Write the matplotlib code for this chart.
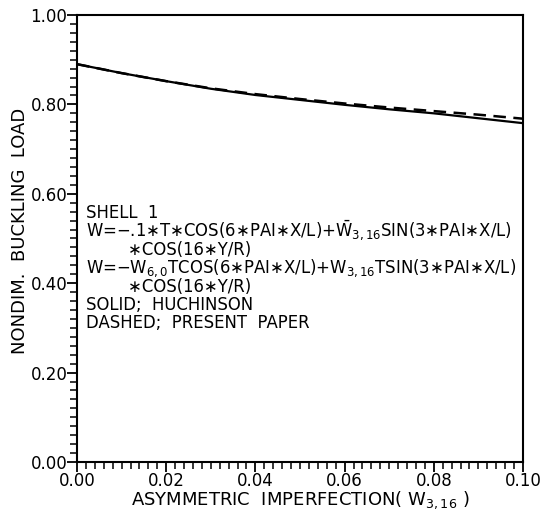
import matplotlib
matplotlib.use("Agg")
import matplotlib.pyplot as plt
import numpy as np
from matplotlib.ticker import MultipleLocator, FormatStrFormatter

# imperfection amplitude
x = [0.00, 0.01, 0.02, 0.03, 0.04, 0.05, 0.06, 0.07, 0.08, 0.09, 0.10]
# solid: Huchinson
huchinson = [0.890, 0.870, 0.852, 0.835, 0.821, 0.810, 0.799, 0.789, 0.780, 0.769, 0.758]
# dashed: present paper
present = [0.890, 0.870, 0.852, 0.836, 0.823, 0.812, 0.802, 0.793, 0.785, 0.777, 0.768]

note_lines = [
    "SHELL  1",
    r"W=$-$.1∗T∗COS(6∗PAI∗X/L)+$\bar{\mathregular{W}}_{3,16}$SIN(3∗PAI∗X/L)",
    "        ∗COS(16∗Y/R)",
    r"W=$-$W$_{6,0}$TCOS(6∗PAI∗X/L)+W$_{3,16}$TSIN(3∗PAI∗X/L)",
    "        ∗COS(16∗Y/R)",
    "SOLID;  HUCHINSON",
    "DASHED;  PRESENT  PAPER",
]
# vertical pixel rows of the note lines
note_rows = [213, 231, 250, 268, 287, 305, 323]

plt.rcParams['mathtext.default'] = 'regular'
fig = plt.figure(figsize=(5.4, 5.15), dpi=100)
ax = fig.add_axes([0.1426, 0.1029, 0.8259, 0.868])

ax.plot(x, huchinson, color='black', lw=1.6)
ax.plot(x, present, color='black', lw=1.8, linestyle=(0, (5, 3)))

ax.set_xlim(0, 0.1)
ax.set_ylim(0, 1.0)
ax.xaxis.set_major_locator(MultipleLocator(0.02))
ax.xaxis.set_minor_locator(MultipleLocator(0.002))
ax.yaxis.set_major_locator(MultipleLocator(0.2))
ax.yaxis.set_minor_locator(MultipleLocator(0.02))
ax.xaxis.set_major_formatter(FormatStrFormatter('%.2f'))
ax.yaxis.set_major_formatter(FormatStrFormatter('%.2f'))
ax.tick_params(which='major', direction='out', length=7, width=1.3, labelsize=12, pad=0)
ax.tick_params(which='minor', direction='out', length=5, width=1.1)
for s in ax.spines.values():
    s.set_linewidth(1.5)

ax.set_xlabel(r"ASYMMETRIC  IMPERFECTION( $\mathregular{W_{3,16}}$ )", fontsize=13, labelpad=0)
fig.text(20/540, 1 - 231/515, "NONDIM.  BUCKLING  LOAD", rotation=90,
         ha='center', va='center', fontsize=13)

for line, row in zip(note_lines, note_rows):
    fig.text(86/540, 1 - row/515, line, ha='left', va='center', fontsize=11.9)

fig.savefig("out.png", dpi=100)
